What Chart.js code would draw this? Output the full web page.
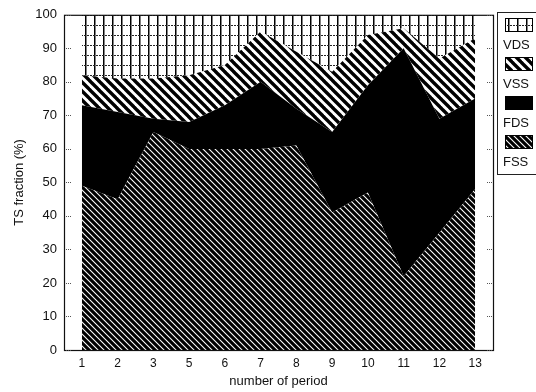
<!DOCTYPE html>
<html>
<head>
<meta charset="utf-8">
<script src="https://cdn.jsdelivr.net/npm/chart.js@4"></script>
<style>
  html, body { margin: 0; padding: 0; background: #fff; }
  #wrap { position: relative; width: 536px; height: 392px; }
</style>
</head>
<body>
<div id="wrap"><canvas id="tsChart" width="536" height="392"></canvas></div>
<script>
// periods on the x axis (no period 4 in the source figure)
var periods = ['1', '2', '3', '5', '6', '7', '8', '9', '10', '11', '12', '13'];

// TS fractions per period, %, stacked bottom -> top
var fss = [49, 45, 65, 60, 60, 60, 61, 41, 47, 22, 35, 48];
var fds = [24, 26,  4,  8, 13, 20, 11, 24, 32, 68, 34, 27];
var vss = [ 9, 10, 12, 14, 12, 15, 17, 18, 15,  6, 18, 18];
var vds = [18, 19, 19, 18, 15,  5, 11, 17,  6,  4, 13,  7];

var yTicks = [0, 10, 20, 30, 40, 50, 60, 70, 80, 90, 100];

var FONT = "'Liberation Sans', Arial, Helvetica, sans-serif";

function makeTile(w, h, draw) {
  var c = document.createElement('canvas');
  c.width = w; c.height = h;
  var g = c.getContext('2d');
  draw(g, w, h);
  return document.createElement('canvas').getContext('2d').createPattern(c, 'repeat');
}

// grid of solid verticals + dashed horizontals
var gridPat = makeTile(9, 10, function(g, w, h) {
  g.fillStyle = '#fff'; g.fillRect(0, 0, w, h);
  g.fillStyle = '#000'; g.fillRect(4, 0, 1.5, h);
  g.fillStyle = '#222';
  for (var x = 0; x < w; x += 3) g.fillRect(x, 5, 2, 1);
});

// bold back-slash stripes
var bigStripe = makeTile(9, 9, function(g, w, h) {
  g.fillStyle = '#fff'; g.fillRect(0, 0, w, h);
  g.strokeStyle = '#000'; g.lineWidth = 3.4;
  for (var c = -w; c <= w; c += w) {
    g.beginPath(); g.moveTo(c - 1, -1); g.lineTo(c + w + 1, h + 1); g.stroke();
  }
});

// dense dark hatch with thin white lines
var fineStripe = makeTile(6, 6, function(g, w, h) {
  g.fillStyle = '#000'; g.fillRect(0, 0, w, h);
  g.strokeStyle = '#fff'; g.lineWidth = 1.1;
  for (var c = -w; c <= w; c += w) {
    g.beginPath(); g.moveTo(c - 1, -1); g.lineTo(c + w + 1, h + 1); g.stroke();
  }
});

function series(label, data, pattern, fill) {
  return {
    label: label,
    data: data,
    backgroundColor: pattern,
    borderWidth: 0,
    pointRadius: 0,
    tension: 0,
    fill: fill
  };
}

// frame round the axes + legend box on the right
var framePlugin = {
  id: 'frame',
  afterDraw: function(chart) {
    var ctx = chart.ctx, a = chart.chartArea;
    ctx.save();
    ctx.strokeStyle = '#111';
    ctx.lineWidth = 1.2;
    ctx.strokeRect(a.left + 0.5, a.top + 0.5, a.right - a.left, a.bottom - a.top);

    // small dotted ticks inside the frame
    var ys = chart.scales.y;
    ctx.fillStyle = '#555';
    yTicks.forEach(function(v) {
      var py = Math.round(ys.getPixelForValue(v));
      for (var k = 2; k < 8; k += 2) {
        ctx.fillRect(a.left + k, py, 1, 1);
        ctx.fillRect(a.right - k, py, 1, 1);
      }
    });

    // legend
    var lx = 497, ly = 12, lw = 45, lh = 162;
    ctx.strokeStyle = '#222';
    ctx.lineWidth = 1;
    ctx.strokeRect(lx + 0.5, ly + 0.5, lw, lh);
    var sets = chart.data.datasets.slice().reverse();
    ctx.font = '13px ' + FONT;
    ctx.textBaseline = 'middle';
    ctx.textAlign = 'left';
    sets.forEach(function(ds, i) {
      var sy = ly + 6 + i * 39;
      ctx.fillStyle = ds.backgroundColor;
      ctx.fillRect(505, sy, 28, 14);
      ctx.strokeStyle = '#000';
      ctx.strokeRect(505.5, sy + 0.5, 27, 13);
      ctx.fillStyle = '#111';
      ctx.fillText(ds.label, 503, sy + 27);
    });
    ctx.restore();
  }
};

new Chart(document.getElementById('tsChart'), {
  type: 'line',
  data: {
    labels: periods,
    datasets: [
      series('FSS', fss, fineStripe, 'origin'),
      series('FDS', fds, '#000', '-1'),
      series('VSS', vss, bigStripe, '-1'),
      series('VDS', vds, gridPat, '-1')
    ]
  },
  options: {
    responsive: false,
    animation: false,
    devicePixelRatio: 1,
    layout: { padding: { top: 10, right: 43, left: 0, bottom: 0 } },
    plugins: {
      legend: { display: false },
      tooltip: { enabled: false }
    },
    scales: {
      x: {
        type: 'category',
        offset: true,
        grid: { display: false, drawTicks: false },
        border: { display: false },
        ticks: { color: '#111', padding: 6, maxRotation: 0, autoSkip: false, font: { family: FONT, size: 12 } },
        title: { display: true, text: 'number of period', color: '#111', padding: { top: 0, bottom: 3 }, font: { family: FONT, size: 13 } },
        afterFit: function(s) { s.height = 42; }
      },
      y: {
        stacked: true,
        min: 0,
        max: 100,
        grid: { display: false, drawTicks: false },
        border: { display: false },
        ticks: { stepSize: 10, color: '#111', padding: 7, font: { family: FONT, size: 13 } },
        title: { display: true, text: 'TS fraction (%)', color: '#111', padding: { top: 12, bottom: 0 }, font: { family: FONT, size: 13 } },
        afterFit: function(s) { s.width = 64; }
      }
    }
  },
  plugins: [framePlugin]
});
</script>
</body>
</html>
